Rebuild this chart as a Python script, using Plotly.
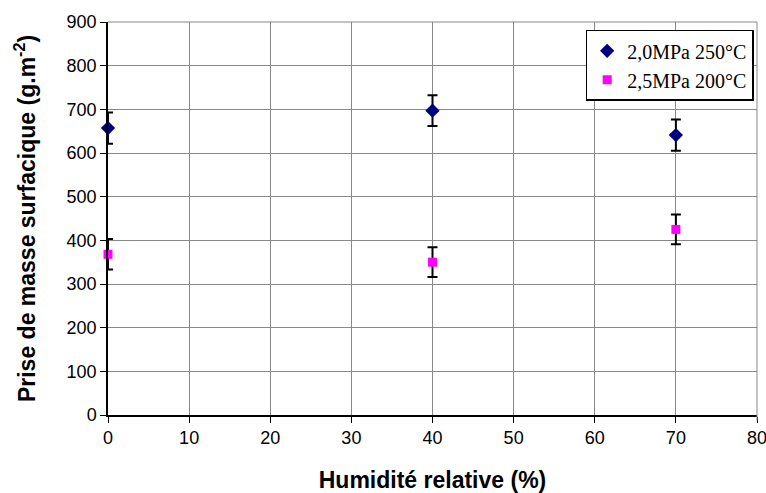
import plotly.graph_objects as go

humidity = [0, 40, 70]
s1_name = "2,0MPa 250°C"
s1_values = [657, 697, 641]
s1_err = [36, 35, 36]
s2_name = "2,5MPa 200°C"
s2_values = [368, 350, 425]
s2_err = [35, 34, 34]

fig = go.Figure()
fig.add_trace(go.Scatter(
    x=humidity, y=s1_values, mode="markers", name=s1_name, cliponaxis=False,
    marker=dict(symbol="diamond", size=11, color="#000080"),
    error_y=dict(type="data", array=s1_err, color="black", thickness=2, width=5),
))
fig.add_trace(go.Scatter(
    x=humidity, y=s2_values, mode="markers", name=s2_name, cliponaxis=False,
    marker=dict(symbol="square", size=9, color="#FF00FF"),
    error_y=dict(type="data", array=s2_err, color="black", thickness=2, width=5),
))

# light gray frame on top and right (gridlines at 900 and 80)
fig.add_shape(type="line", xref="paper", yref="paper", x0=0, x1=1, y0=1, y1=1,
              line=dict(color="#888888", width=1))
fig.add_shape(type="line", xref="paper", yref="paper", x0=1, x1=1, y0=-0.015, y1=1,
              line=dict(color="#888888", width=1))

fig.update_layout(
    width=766, height=493,
    margin=dict(l=108, r=9, t=22, b=78),
    paper_bgcolor="white", plot_bgcolor="white",
    font=dict(family="Liberation Sans, Arial", size=18, color="black"),
    showlegend=True,
    legend=dict(
        x=0.736, y=0.98, xanchor="left", yanchor="top",
        bgcolor="white", bordercolor="black", borderwidth=1.5,
        font=dict(family="Liberation Serif, Times New Roman", size=20, color="black"),
        itemwidth=30, tracegroupgap=0,
    ),
    xaxis=dict(
        range=[0, 80], dtick=10, tick0=0,
        showgrid=True, gridcolor="#888888", gridwidth=1,
        showline=True, linecolor="black", linewidth=1.5,
        ticks="outside", ticklen=6, tickcolor="black",
        zeroline=False, automargin=False, ticklabeloverflow="allow",
        tickfont=dict(size=18),
        title=dict(text="<b>Humidité relative (%)</b>", font=dict(size=23), standoff=26),
    ),
    yaxis=dict(
        range=[0, 900], dtick=100, tick0=0,
        showgrid=True, gridcolor="#888888", gridwidth=1,
        showline=True, linecolor="black", linewidth=1.5,
        ticks="outside", ticklen=6, tickcolor="black",
        zeroline=False, automargin=False,
        tickfont=dict(size=18),
        title=dict(text="<b>Prise de masse surfacique (g.m<sup>-2</sup>)</b>", font=dict(size=23), standoff=25),
    ),
)

fig.write_html(
    "out.html",
    config={"displayModeBar": False},
    post_script="document.body.style.margin='0';document.body.style.overflow='hidden';",
)
